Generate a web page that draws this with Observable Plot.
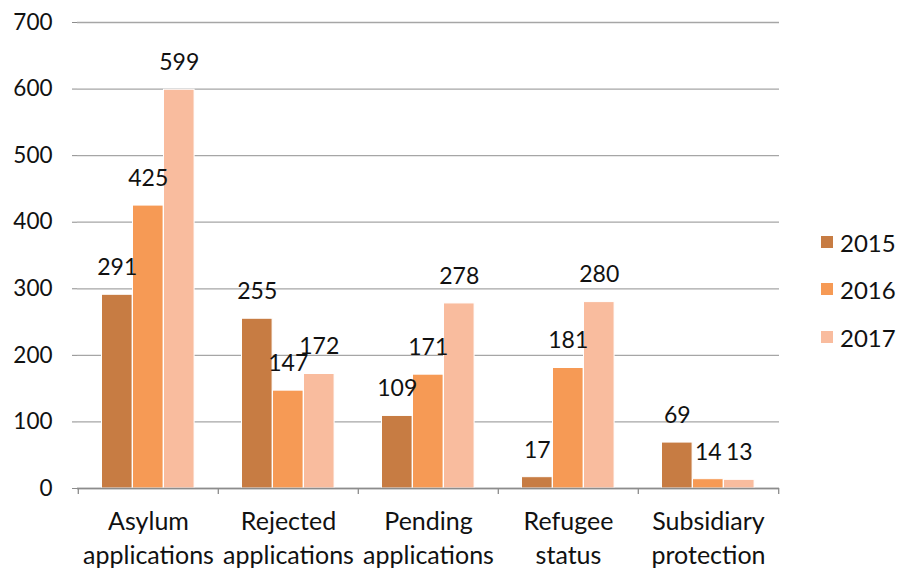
<!DOCTYPE html>
<html>
<head>
<meta charset="utf-8">
<script src="https://cdn.jsdelivr.net/npm/d3@7"></script>
<script src="https://cdn.jsdelivr.net/npm/@observablehq/plot@0.6"></script>
<style>
  html, body { margin: 0; padding: 0; background: #fff; }
  #wrap { position: relative; width: 897px; height: 569px; font-family: Lato, "Open Sans", sans-serif; }
  #legend { position: absolute; left: 821px; top: 0; }
  .item { position: absolute; left: 0; display: flex; align-items: center; font-size: 24px; color: #111; white-space: nowrap; }
  .sw { width: 12px; height: 12px; margin-right: 7px; }
</style>
</head>
<body>
<div id="wrap"><div id="legend"></div></div>
<script>
const categories = ["Asylum applications", "Rejected applications", "Pending applications", "Refugee status", "Subsidiary protection"];
const years = ["2015", "2016", "2017"];
const v2015 = [291, 255, 109, 17, 69];
const v2016 = [425, 147, 171, 181, 14];
const v2017 = [599, 172, 278, 280, 13];
const yTicks = [0, 100, 200, 300, 400, 500, 600, 700];
const colors = ["#C77C43", "#F69A55", "#F9BC9E"];

const series = [v2015, v2016, v2017];
const data = [];
years.forEach((yr, i) => categories.forEach((c, j) => data.push({category: c, year: yr, value: series[i][j], idx: i})));

const W = 897, H = 569, mL = 77, mR = 118, mT = 22, mB = 81;
const band = (W - mL - mR) / categories.length;
const barW = 31, pad = 23.5;

const marks = [
  Plot.ruleY(yTicks, {stroke: "#a6a6a6", strokeWidth: 1.3}),
  Plot.ruleX([0], {frameAnchor: "left", stroke: "#8c8c8c", strokeWidth: 1.3}),
  Plot.axisY({ticks: yTicks, tickSize: 5, tickPadding: 20, fontSize: 22.5, stroke: "#8c8c8c", color: "#111"}),
  Plot.axisX({tickSize: 0, tickPadding: 18, fontSize: 25, lineHeight: 1.34, tickFormat: d => d.replace(" ", "\n"), color: "#111"}),
  Plot.ruleX(categories, {x: d => d, dx: -band / 2, y1: 0, y2: -9, stroke: "#8c8c8c", strokeWidth: 1.3}),
  Plot.ruleX([categories[categories.length - 1]], {x: d => d, dx: band / 2, y1: 0, y2: -9, stroke: "#8c8c8c", strokeWidth: 1.3})
];
years.forEach((yr, i) => {
  const d = data.filter(r => r.year === yr);
  marks.push(Plot.barY(d, {
    x: "category", y: "value", fill: colors[i], stroke: "white", strokeWidth: 1,
    insetLeft: pad + barW * i, insetRight: band - pad - barW * (i + 1)
  }));
});
marks.push(Plot.ruleY([0], {stroke: "#8c8c8c", strokeWidth: 1.3}));
years.forEach((yr, i) => {
  const d = data.filter(r => r.year === yr);
  marks.push(Plot.text(d, {
    x: "category", y: "value", text: r => String(r.value),
    dx: pad + barW * i + barW / 2 - band / 2, dy: -27, fontSize: 23, fill: "#111"
  }));
});

const chart = Plot.plot({
  width: W, height: H,
  marginLeft: mL, marginRight: mR, marginTop: mT, marginBottom: mB,
  style: {fontFamily: "Lato, 'Open Sans', sans-serif", background: "white", overflow: "visible"},
  x: {domain: categories, padding: 0, label: null},
  y: {domain: [0, 700], label: null},
  clip: false,
  marks
});
const wrap = document.getElementById("wrap");
wrap.insertBefore(chart, wrap.firstChild);

const legend = document.getElementById("legend");
const rowY = [242, 289, 337];
years.forEach((yr, i) => {
  const it = document.createElement("div");
  it.className = "item";
  it.style.top = (rowY[i] - 14) + "px";
  it.style.height = "28px";
  it.innerHTML = `<span class="sw" style="background:${colors[i]}"></span><span>${yr}</span>`;
  legend.appendChild(it);
});
</script>
</body>
</html>
